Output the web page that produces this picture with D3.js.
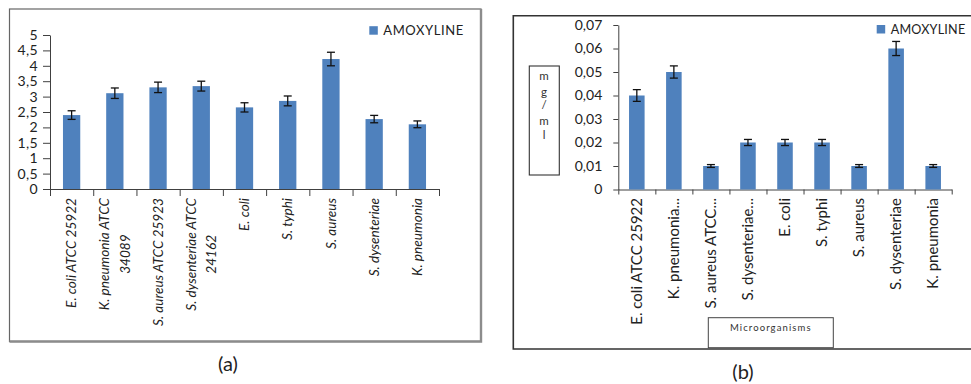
<!DOCTYPE html>
<html>
<head>
<meta charset="utf-8">
<script src="https://cdn.jsdelivr.net/npm/d3@7"></script>
<style>
  body { margin: 0; background: #fff; }
  svg { display: block; }
</style>
</head>
<body>
<svg id="chart" width="971" height="384"></svg>
<script>
// Panel (a): inhibition zone values per strain
const strainsA = [
  "E. coli ATCC 25922",
  "K. pneumonia ATCC\n34089",
  "S. aureus ATCC 25923",
  "S. dysenteriae ATCC\n24162",
  "E. coli",
  "S. typhi",
  "S. aureus",
  "S. dysenteriae",
  "K. pneumonia"
];
const valuesA = [2.40, 3.11, 3.30, 3.34, 2.65, 2.86, 4.22, 2.27, 2.10];
const errorsA = [0.14, 0.17, 0.17, 0.16, 0.15, 0.16, 0.22, 0.12, 0.11];
const ticksA = [0, 0.5, 1, 1.5, 2, 2.5, 3, 3.5, 4, 4.5, 5];

// Panel (b): MIC in mg/ml per strain
const strainsB = [
  "E. coli ATCC 25922",
  "K. pneumonia...",
  "S. aureus ATCC...",
  "S. dysenteriae...",
  "E. coli",
  "S. typhi",
  "S. aureus",
  "S. dysenteriae",
  "K. pneumonia"
];
const valuesB = [0.04, 0.05, 0.01, 0.02, 0.02, 0.02, 0.01, 0.06, 0.01];
const errorsB = [0.0025, 0.0026, 0.0006, 0.0013, 0.0013, 0.0013, 0.0006, 0.003, 0.0006];
const ticksB = [0, 0.01, 0.02, 0.03, 0.04, 0.05, 0.06, 0.07];

const seriesName = "AMOXYLINE";
const yUnitLetters = ["m", "g", "/", "m", "l"];
const xTitleB = "Microorganisms";

const FONT = "Lato, 'Open Sans', 'DejaVu Sans', sans-serif";
const BAR = "#4f81bd";
const AXIS = "#404040";

const locale = d3.formatLocale({ decimal: ",", thousands: ".", grouping: [3], currency: ["", ""] });
const fmtA = locale.format("~f");
const fmtB = d => d === 0 ? "0" : locale.format(".2f")(d);

const svg = d3.select("#chart");

function styleAxis(g) {
  g.selectAll("path, line").attr("stroke", AXIS).attr("stroke-width", 1);
  g.selectAll("text").attr("fill", "#222").attr("font-family", FONT);
}

function drawBars(g, x, y, values, errors, cap) {
  g.selectAll("rect.bar").data(values).join("rect")
    .attr("class", "bar")
    .attr("x", (d, i) => x(i))
    .attr("width", x.bandwidth())
    .attr("y", d => y(d))
    .attr("height", d => y(0) - y(d))
    .attr("fill", BAR);

  const eb = g.selectAll("g.err").data(values).join("g")
    .attr("class", "err")
    .attr("transform", (d, i) => `translate(${x(i) + x.bandwidth() / 2},0)`)
    .attr("stroke", "#111").attr("stroke-width", 1.3);
  eb.append("line").attr("y1", (d, i) => y(d + errors[i])).attr("y2", (d, i) => y(d - errors[i]));
  eb.append("line").attr("x1", -cap).attr("x2", cap)
    .attr("y1", (d, i) => y(d + errors[i])).attr("y2", (d, i) => y(d + errors[i]));
  eb.append("line").attr("x1", -cap).attr("x2", cap)
    .attr("y1", (d, i) => y(d - errors[i])).attr("y2", (d, i) => y(d - errors[i]));
}

// Rotated category labels hanging below the axis; multi-line labels are centred in their block
function drawRotatedLabels(g, x, labels, top, size, italic) {
  labels.forEach((lab, i) => {
    const lines = lab.split("\n");
    const cx = x(i) + x.bandwidth() / 2;
    const lg = g.append("g").attr("transform", `translate(${cx},${top}) rotate(-90)`);
    const lineH = size * 1.5;
    const texts = lines.map((ln, j) => lg.append("text")
      .attr("y", (j - (lines.length - 1) / 2) * lineH)
      .attr("dy", "0.35em")
      .attr("font-family", FONT)
      .attr("font-size", size)
      .attr("font-style", italic ? "italic" : "normal")
      .attr("fill", "#222")
      .text(ln));
    if (lines.length === 1) {
      texts[0].attr("text-anchor", "end").attr("x", 0);
    } else {
      const maxW = d3.max(texts, t => t.node().getComputedTextLength());
      texts.forEach(t => t.attr("text-anchor", "middle").attr("x", -maxW / 2));
    }
  });
}

function legend(g, x, y, size, spacing) {
  g.append("rect").attr("x", x).attr("y", y).attr("width", 8.5).attr("height", 8.5).attr("fill", BAR);
  g.append("text").attr("x", x + 14).attr("y", y + 8.6)
    .attr("font-family", FONT).attr("font-size", size).attr("letter-spacing", spacing)
    .attr("fill", "#222").text(seriesName);
}

// ---------- Panel (a) ----------
{
  const g = svg.append("g");
  g.append("rect").attr("x", 9.5).attr("y", 9).attr("width", 471.5).attr("height", 332.5)
    .attr("fill", "none").attr("stroke", "#666").attr("stroke-width", 1.2);
  g.append("path").attr("d", "M481,9 V341.5 H9.5")
    .attr("fill", "none").attr("stroke", "#8c8c8c").attr("stroke-width", 2.4);

  const x = d3.scaleBand().domain(d3.range(strainsA.length)).range([50, 439])
    .paddingInner(0.6).paddingOuter(0.3);
  const xEdge = d3.scaleLinear().domain([0, strainsA.length]).range([50, 439]);
  const y = d3.scaleLinear().domain([0, 5]).range([189, 35]);

  g.append("g").attr("transform", "translate(50,0)")
    .call(d3.axisLeft(y).tickValues(ticksA).tickFormat(fmtA).tickSize(7).tickSizeOuter(0).tickPadding(5))
    .call(styleAxis)
    .call(a => a.selectAll("text").attr("font-size", 14).attr("letter-spacing", 0.4));

  g.append("g").attr("transform", "translate(0,189)")
    .call(d3.axisBottom(xEdge).tickValues(d3.range(strainsA.length + 1)).tickFormat("").tickSize(7).tickSizeOuter(0))
    .call(styleAxis);

  drawBars(g, x, y, valuesA, errorsA, 4);
  drawRotatedLabels(g, x, strainsA, 198, 13.6, true);
  legend(g, 369.3, 26.2, 13, 0.6);

  g.append("text").attr("x", 228).attr("y", 371).attr("text-anchor", "middle")
    .attr("font-family", FONT).attr("font-size", 20).attr("fill", "#222").text("(a)");
}

// ---------- Panel (b) ----------
{
  const g = svg.append("g");
  g.append("path").attr("d", "M975,15.7 H513.3 V349 H975")
    .attr("fill", "none").attr("stroke", "#333").attr("stroke-width", 1.6);

  const x = d3.scaleBand().domain(d3.range(strainsB.length)).range([618.3, 951.7])
    .paddingInner(0.58).paddingOuter(0.29);
  const xEdge = d3.scaleLinear().domain([0, strainsB.length]).range([618.3, 951.7]);
  const y = d3.scaleLinear().domain([0, 0.07]).range([189.5, 25]);

  g.append("g").attr("transform", "translate(618.3,0)")
    .call(d3.axisLeft(y).tickValues(ticksB).tickFormat(fmtB).tickSize(5).tickSizeOuter(0).tickPadding(11))
    .call(styleAxis)
    .call(a => a.selectAll("text").attr("font-size", 14));

  g.append("g").attr("transform", "translate(0,189.5)")
    .call(d3.axisBottom(xEdge).tickValues(d3.range(strainsB.length + 1)).tickFormat("").tickSize(5).tickSizeOuter(0))
    .call(styleAxis);

  drawBars(g, x, y, valuesB, errorsB, 4);
  drawRotatedLabels(g, x, strainsB, 198, 15, false);
  legend(g, 876.7, 25, 12.6, 0.2);

  // unit box on the y side
  g.append("rect").attr("x", 529.3).attr("y", 66).attr("width", 30).attr("height", 109)
    .attr("fill", "#fff").attr("stroke", "#333").attr("stroke-width", 1.1);
  const unitY = [80, 96, 109, 125, 139];
  g.selectAll("text.unit").data(yUnitLetters).join("text")
    .attr("class", "unit")
    .attr("x", 544).attr("y", (d, i) => unitY[i])
    .attr("text-anchor", "middle").attr("font-family", FONT).attr("font-size", 11.5)
    .attr("fill", "#333").text(d => d);

  // axis title box
  g.append("rect").attr("x", 708.3).attr("y", 317.7).attr("width", 125).attr("height", 30)
    .attr("fill", "#fff").attr("stroke", "#444").attr("stroke-width", 1);
  g.append("text").attr("x", 770.8).attr("y", 331).attr("text-anchor", "middle")
    .attr("font-family", FONT).attr("font-size", 9.5).attr("letter-spacing", 1.1)
    .attr("fill", "#333").text(xTitleB);

  g.append("text").attr("x", 743).attr("y", 379).attr("text-anchor", "middle")
    .attr("font-family", FONT).attr("font-size", 20).attr("fill", "#222").text("(b)");
}
</script>
</body>
</html>
